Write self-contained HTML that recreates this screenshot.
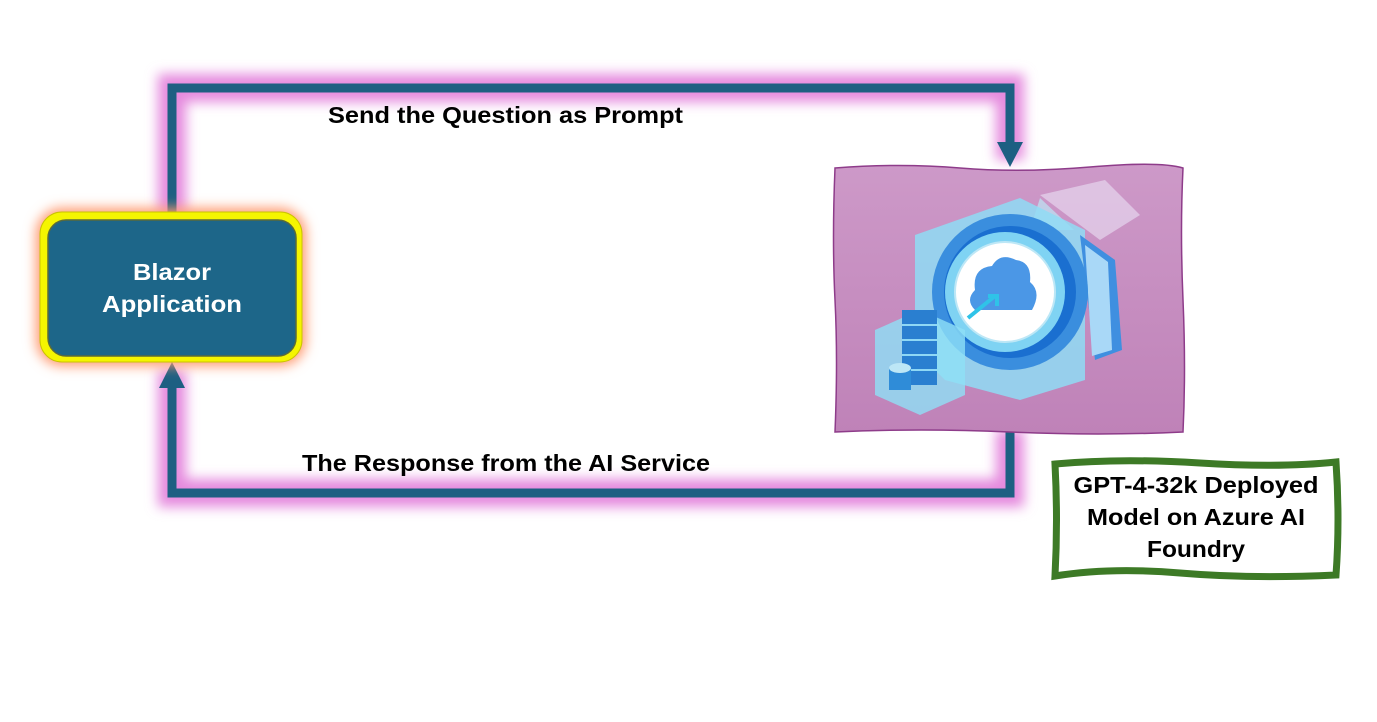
<!DOCTYPE html>
<html><head><style>
body{margin:0;background:#fff;width:1377px;height:717px;overflow:hidden;font-family:"Liberation Sans",sans-serif}
</style></head><body>
<svg width="1377" height="717" viewBox="0 0 1377 717" xmlns="http://www.w3.org/2000/svg">
<defs>
<filter id="glow" x="-10%" y="-10%" width="120%" height="120%"><feGaussianBlur stdDeviation="6"/></filter>
<filter id="oglow" x="-20%" y="-20%" width="140%" height="140%"><feGaussianBlur stdDeviation="6"/></filter>
<linearGradient id="pur" x1="0" y1="0" x2="0" y2="1"><stop offset="0" stop-color="#cd99c8"/><stop offset="1" stop-color="#bf82b8"/></linearGradient>
</defs>
<rect width="1377" height="717" fill="#fff"/>
<g stroke="#e58ade" stroke-width="28" fill="none" filter="url(#glow)">
<polyline points="172,215 172,88 1010,88 1010,160"/>
<polyline points="1010,430 1010,493 172,493 172,370"/>
</g>
<g stroke="#1d5f82" stroke-width="9" fill="none">
<polyline points="172,215 172,88 1010,88 1010,145"/>
<polyline points="1010,432 1010,493 172,493 172,385"/>
</g>
<polygon points="997,142 1023,142 1010,167" fill="#1d5f82"/>
<polygon points="159,388 185,388 172,362" fill="#1d5f82"/>
<rect x="36" y="208" width="270" height="158" rx="26" fill="#ff9a70" filter="url(#oglow)"/>
<rect x="40" y="212" width="262" height="150" rx="22" fill="#f5f500" stroke="#c9c300" stroke-width="1"/>
<rect x="48" y="220" width="248" height="136" rx="18" fill="#1d6689" stroke="#5a6a3a" stroke-width="1.5"/>
<text x="172" y="280" fill="#fff" font-size="23" font-weight="bold" text-anchor="middle" textLength="78" lengthAdjust="spacingAndGlyphs">Blazor</text>
<text x="172" y="312" fill="#fff" font-size="23" font-weight="bold" text-anchor="middle" textLength="140" lengthAdjust="spacingAndGlyphs">Application</text>
<text x="328" y="123" font-size="23" font-weight="bold" fill="#000" textLength="355" lengthAdjust="spacingAndGlyphs">Send the Question as Prompt</text>
<text x="302" y="471" font-size="23" font-weight="bold" fill="#000" textLength="408" lengthAdjust="spacingAndGlyphs">The Response from the AI Service</text>
<path d="M835,168 Q900,163 960,168 T1090,167 T1183,168 Q1180,230 1183,300 T1183,432 Q1100,436 1010,432 T835,432 Q838,360 835,300 T835,168Z" fill="url(#pur)" stroke="#8e3c8a" stroke-width="1.5"/>
<g>
<polygon points="1040,195 1105,180 1140,215 1100,240" fill="#e6d6ee" opacity="0.7"/>
<polygon points="1040,198 1074,230 1030,230" fill="#bce7f5" opacity="0.7"/>
<polygon points="1020,198 1085,230 1085,380 1020,400 945,380 915,350 915,235" fill="#8fdcf4" opacity="0.85"/>
<polygon points="1080,235 1115,260 1122,350 1095,360" fill="#3f8fe0"/>
<polygon points="1085,245 1108,262 1112,350 1092,356" fill="#a9d8f7"/>
<circle cx="1010" cy="292" r="78" fill="#3a8ede"/>
<circle cx="1010" cy="292" r="66" fill="#1a6fd0"/>
<circle cx="1005" cy="292" r="60" fill="#7fd3f3"/>
<circle cx="1005" cy="292" r="50" fill="#fff" stroke="#bde7f6" stroke-width="2"/>
<path d="M975,310 Q965,300 975,290 Q972,268 992,266 Q1000,252 1016,260 Q1032,262 1030,282 Q1042,292 1032,310Z" fill="#4b97e6"/>
<path d="M968,318 L995,296 M988,296 L997,296 L997,306" stroke="#2fc3e8" stroke-width="4" fill="none"/>
<polygon points="875,330 920,310 965,330 965,395 920,415 875,395" fill="#8fe0f6" opacity="0.8"/>
<rect x="902" y="310" width="35" height="75" fill="#2a7fd0"/>
<g stroke="#8fd8f5" stroke-width="2"><line x1="902" y1="325" x2="937" y2="325"/><line x1="902" y1="340" x2="937" y2="340"/><line x1="902" y1="355" x2="937" y2="355"/><line x1="902" y1="370" x2="937" y2="370"/></g>
<rect x="889" y="368" width="22" height="22" fill="#2f8cd8"/>
<ellipse cx="900" cy="368" rx="11" ry="5" fill="#bde7f6"/>
</g>
<path d="M1055,464 Q1120,458 1200,463 T1336,462 Q1340,520 1336,575 Q1250,579 1180,573 T1055,576 Q1058,520 1055,464Z" fill="#fff" stroke="#3d7a26" stroke-width="7"/>
<text x="1196" y="493" font-size="23" font-weight="bold" text-anchor="middle" fill="#000" textLength="245" lengthAdjust="spacingAndGlyphs">GPT-4-32k Deployed</text>
<text x="1196" y="525" font-size="23" font-weight="bold" text-anchor="middle" fill="#000" textLength="218" lengthAdjust="spacingAndGlyphs">Model on Azure AI</text>
<text x="1196" y="557" font-size="23" font-weight="bold" text-anchor="middle" fill="#000" textLength="98" lengthAdjust="spacingAndGlyphs">Foundry</text>
</svg>
</body></html>
